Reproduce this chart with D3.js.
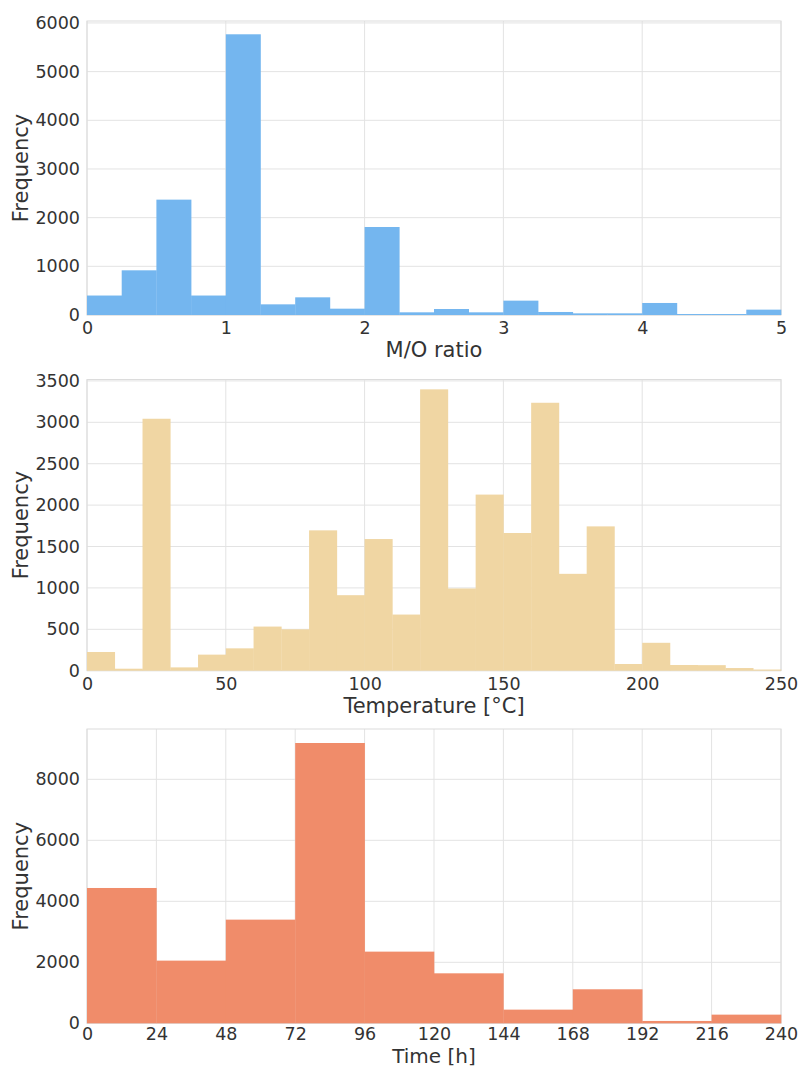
<!DOCTYPE html>
<html>
<head>
<meta charset="utf-8">
<script src="https://cdn.jsdelivr.net/npm/d3@7"></script>
<style>
  html, body { margin: 0; padding: 0; background: #ffffff; }
  svg { display: block; }
  text { font-family: "DejaVu Sans", sans-serif; }
</style>
</head>
<body>
<svg id="chart" width="800" height="1068"></svg>
<script>
// ---- Data ----
// Panel 1: M/O ratio histogram (bin edges 0..5, width 0.25)
const moEdges = [0, 0.25, 0.5, 0.75, 1, 1.25, 1.5, 1.75, 2, 2.25, 2.5, 2.75, 3, 3.25, 3.5, 3.75, 4, 4.25, 4.5, 4.75, 5];
const moCounts = [400, 918, 2370, 400, 5767, 219, 363, 130, 1808, 55, 123, 55, 295, 62, 34, 34, 247, 20, 20, 110];
const moXTicks = [0, 1, 2, 3, 4, 5];
const moYTicks = [0, 1000, 2000, 3000, 4000, 5000, 6000];

// Panel 2: Temperature histogram (bin edges 0..250, width 10)
const tempEdges = [0, 10, 20, 30, 40, 50, 60, 70, 80, 90, 100, 110, 120, 130, 140, 150, 160, 170, 180, 190, 200, 210, 220, 230, 240, 250];
const tempCounts = [226, 24, 3043, 40, 194, 270, 533, 500, 1695, 912, 1590, 678, 3398, 993, 2127, 1663, 3236, 1170, 1743, 81, 337, 69, 67, 32, 14];
const tempXTicks = [0, 50, 100, 150, 200, 250];
const tempYTicks = [0, 500, 1000, 1500, 2000, 2500, 3000, 3500];

// Panel 3: Time histogram (bin edges 0..240, width 24)
const timeEdges = [0, 24, 48, 72, 96, 120, 144, 168, 192, 216, 240];
const timeCounts = [4437, 2055, 3399, 9191, 2350, 1639, 448, 1115, 77, 284];
const timeXTicks = [0, 24, 48, 72, 96, 120, 144, 168, 192, 216, 240];
const timeYTicks = [0, 2000, 4000, 6000, 8000];

// ---- Panels ----
const panels = [
  { edges: moEdges, counts: moCounts, xTicks: moXTicks, yTicks: moYTicks,
    xMax: 5, yMax: 6040, top: 21, bottom: 315, color: "#74b6ef", xLabel: "M/O ratio",
    labelGap: 42, labelSize: 21, tickPad: 7 },
  { edges: tempEdges, counts: tempCounts, xTicks: tempXTicks, yTicks: tempYTicks,
    xMax: 250, yMax: 3517, top: 379.5, bottom: 670.7, color: "#f0d6a3", xLabel: "Temperature [°C]",
    labelGap: 42, labelSize: 21, tickPad: 7 },
  { edges: timeEdges, counts: timeCounts, xTicks: timeXTicks, yTicks: timeYTicks,
    xMax: 240, yMax: 9650, top: 729, bottom: 1023.3, color: "#f08c6a", xLabel: "Time [h]",
    labelGap: 40, labelSize: 20, tickPad: 4 }
];

const left = 87, right = 781;
const svg = d3.select("#chart");

panels.forEach(p => {
  const x = d3.scaleLinear().domain([0, p.xMax]).range([left, right]);
  const y = d3.scaleLinear().domain([0, p.yMax]).range([p.bottom, p.top]);
  const g = svg.append("g");

  // gridlines
  g.append("g").selectAll("line.h").data(p.yTicks).join("line")
    .attr("x1", left).attr("x2", right)
    .attr("y1", d => y(d)).attr("y2", d => y(d))
    .attr("stroke", "#e3e3e3").attr("stroke-width", 1);
  g.append("g").selectAll("line.v").data(p.xTicks).join("line")
    .attr("x1", d => x(d)).attr("x2", d => x(d))
    .attr("y1", p.top).attr("y2", p.bottom)
    .attr("stroke", "#e3e3e3").attr("stroke-width", 1);

  // frame
  g.append("rect")
    .attr("x", left).attr("y", p.top)
    .attr("width", right - left).attr("height", p.bottom - p.top)
    .attr("fill", "none").attr("stroke", "#dcdcdc").attr("stroke-width", 1);

  // bars
  const bins = p.counts.map((c, i) => ({ x0: p.edges[i], x1: p.edges[i + 1], c }));
  g.append("g").selectAll("rect").data(bins).join("rect")
    .attr("x", d => x(d.x0))
    .attr("width", d => x(d.x1) - x(d.x0) + 0.3)
    .attr("y", d => y(d.c))
    .attr("height", d => y(0) - y(d.c))
    .attr("fill", p.color);

  // axes
  const xAxis = d3.axisBottom(x).tickValues(p.xTicks).tickSize(0).tickPadding(p.tickPad).tickFormat(d3.format("d"));
  const yAxis = d3.axisLeft(y).tickValues(p.yTicks).tickSize(0).tickPadding(7).tickFormat(d3.format("d"));
  const gx = g.append("g").attr("transform", `translate(0,${p.bottom})`).call(xAxis);
  const gy = g.append("g").attr("transform", `translate(${left},0)`).call(yAxis);
  [gx, gy].forEach(a => {
    a.select(".domain").remove();
    a.selectAll("text")
      .style("font-family", "'DejaVu Sans', sans-serif")
      .style("font-size", "17.5px")
      .attr("fill", "#333333");
  });

  // labels
  g.append("text")
    .attr("x", (left + right) / 2).attr("y", p.bottom + p.labelGap)
    .attr("text-anchor", "middle")
    .style("font-size", p.labelSize + "px").attr("fill", "#333333")
    .text(p.xLabel);
  g.append("text")
    .attr("transform", `translate(28,${(p.top + p.bottom) / 2}) rotate(-90)`)
    .attr("text-anchor", "middle")
    .style("font-size", "21px").attr("fill", "#333333")
    .text("Frequency");
});
</script>
</body>
</html>
